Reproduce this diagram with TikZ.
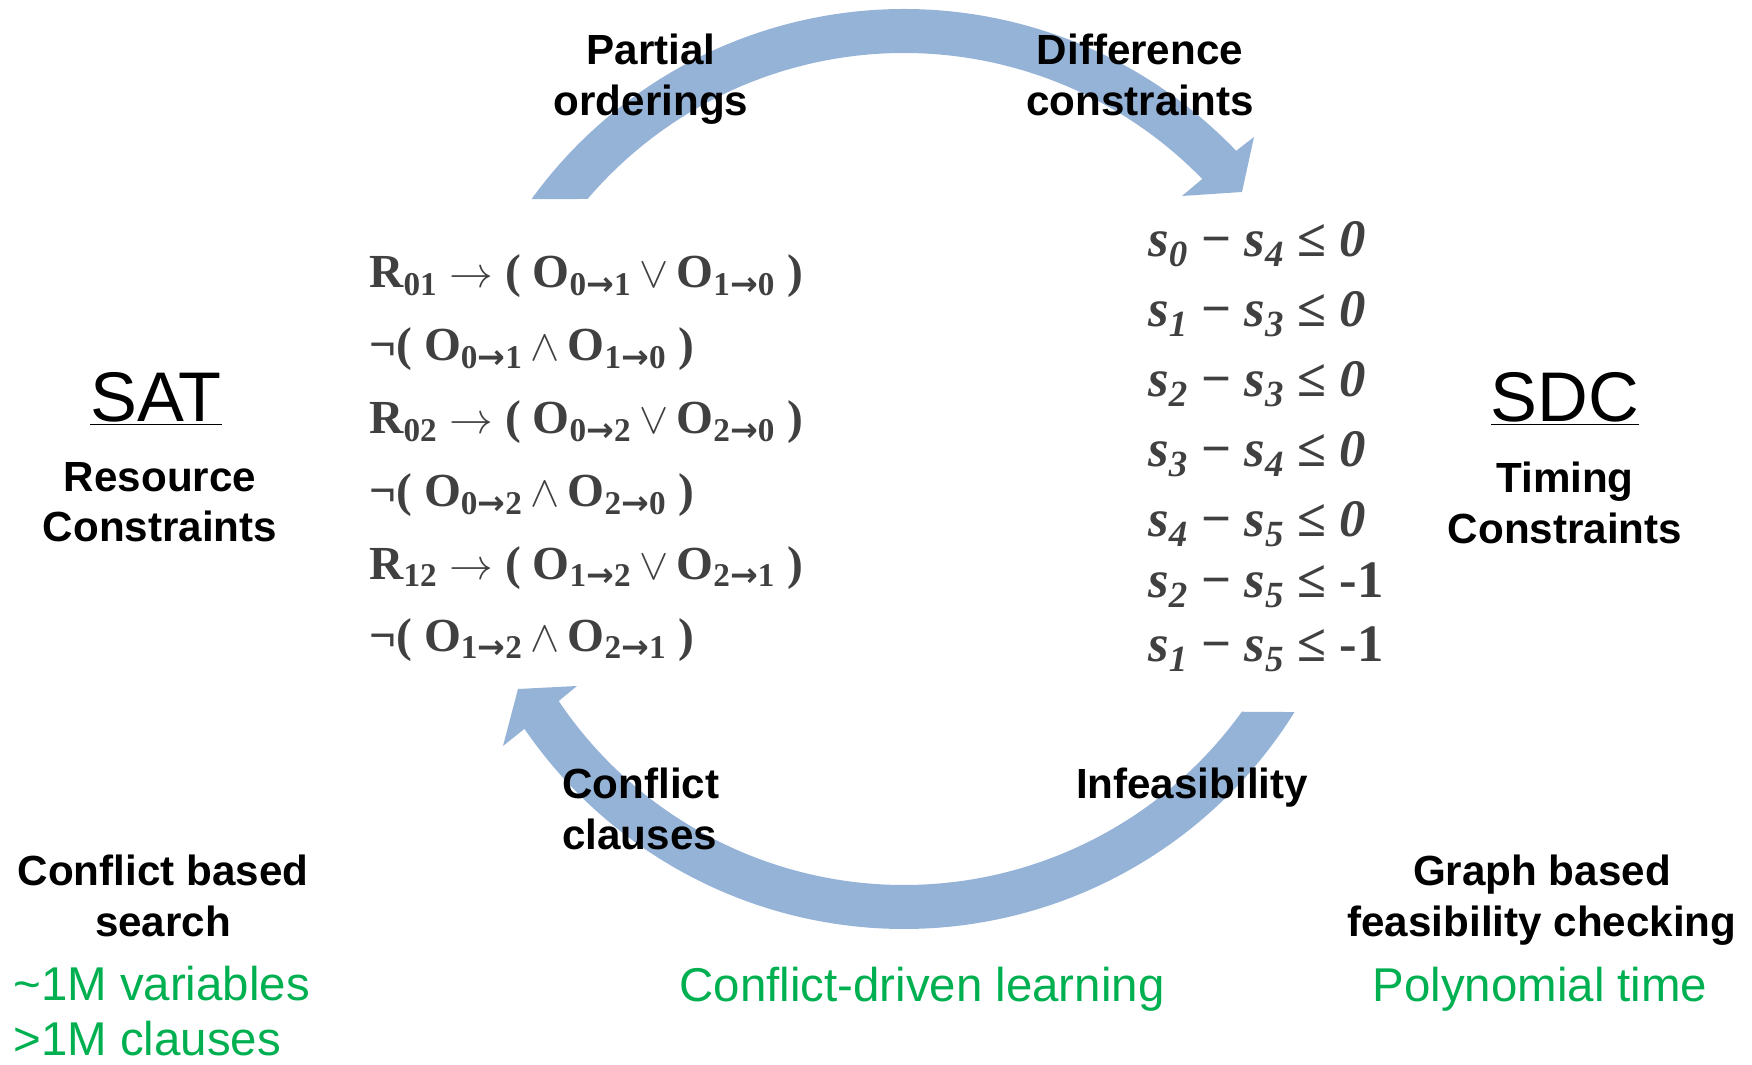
\documentclass[tikz,border=0pt]{standalone}
\usepackage{fontspec}
\setmainfont{Liberation Sans}
\newfontfamily\formfont{Liberation Serif}
\newfontfamily\arrfont{DejaVu Sans}
\usetikzlibrary{calc}
\definecolor{cArrow}{RGB}{149,179,215}
\definecolor{cForm}{RGB}{64,64,64}
\definecolor{cGreen}{RGB}{0,176,80}
\newcommand{\Rv}[1]{R\textsubscript{#1}}
\newcommand{\Ov}[2]{O\textsubscript{#1{\arrfont\bfseries →}#2}}
\newcommand{\Sv}[1]{\textit{s}\textsubscript{\textit{#1}}}
\tikzset{
  lbl/.style={font=\fontsize{24}{28.6}\selectfont\bfseries,align=center,inner sep=0pt},
  big/.style={font=\fontsize{40}{48}\selectfont,inner sep=0pt},
  note/.style={font=\fontsize{27}{32.4}\selectfont,text=cGreen,inner sep=0pt},
  clause/.style={font=\formfont\fontsize{27}{32}\selectfont\bfseries,text=cForm,anchor=base west,inner sep=0pt},
  diffc/.style={font=\formfont\fontsize{30}{36}\selectfont\bfseries,text=cForm,anchor=base west,inner sep=0pt}
}
\begin{document}
\begin{tikzpicture}[x=0.02cm,y=0.02cm]
\useasboundingbox (0,0) rectangle (1752,1065);
\coordinate (ctr) at (904,596);
\fill[cArrow] ($(ctr)+(144.06:460)$) arc[start angle=144.06,end angle=43.77,radius=460]
  -- (1254,928) -- (1242,873) -- (1182,869)
  -- ($(ctr)+(44.2:416)$) arc[start angle=44.2,end angle=139.53,radius=416] -- cycle;
\fill[cArrow] ($(ctr)+(-31.9:460)$) arc[start angle=-31.9,end angle=-145.6,radius=460]
  -- (503,319) -- (518,376) -- (577,379)
  -- ($(ctr)+(-146.1:416)$) arc[start angle=-146.1,end angle=-35.7,radius=416] -- cycle;

\node[lbl,anchor=north] (partial) at (651,1031) {Partial\\orderings};
\node[lbl,anchor=north] (diff) at (1140,1031) {Difference\\constraints};
\node[lbl,anchor=north west,align=left] (confl) at (562,297) {Conflict\\clauses};
\node[lbl,anchor=north] (infeas) at (1192,297) {Infeasibility};

\node[big,anchor=north] (sat) at (156,693) {\underline{SAT}};
\node[lbl,anchor=north] (satsub) at (160,603) {Resource\\Constraints};
\node[big,anchor=north] (sdc) at (1565,693) {\underline{SDC}};
\node[lbl,anchor=north] (sdcsub) at (1565,603) {Timing\\Constraints};

\node[clause] (f1) at (369,777) {\Rv{01} $\rightarrow$ ( \Ov{0}{1}\,$\vee$\,\Ov{1}{0} )};
\node[clause] (f2) at (369,704) {¬( \Ov{0}{1}\,$\wedge$\,\Ov{1}{0} )};
\node[clause] (f3) at (369,631) {\Rv{02} $\rightarrow$ ( \Ov{0}{2}\,$\vee$\,\Ov{2}{0} )};
\node[clause] (f4) at (369,558) {¬( \Ov{0}{2}\,$\wedge$\,\Ov{2}{0} )};
\node[clause] (f5) at (369,485) {\Rv{12} $\rightarrow$ ( \Ov{1}{2}\,$\vee$\,\Ov{2}{1} )};
\node[clause] (f6) at (369,413) {¬( \Ov{1}{2}\,$\wedge$\,\Ov{2}{1} )};

\node[diffc] (d1) at (1148,808) {\Sv{0} − \Sv{4} ≤ \textit{0}};
\node[diffc] (d2) at (1148,738) {\Sv{1} − \Sv{3} ≤ \textit{0}};
\node[diffc] (d3) at (1148,668) {\Sv{2} − \Sv{3} ≤ \textit{0}};
\node[diffc] (d4) at (1148,598) {\Sv{3} − \Sv{4} ≤ \textit{0}};
\node[diffc] (d5) at (1148,528) {\Sv{4} − \Sv{5} ≤ \textit{0}};
\node[diffc] (d6) at (1148,467) {\Sv{2} − \Sv{5} ≤ -1};
\node[diffc] (d7) at (1148,403) {\Sv{1} − \Sv{5} ≤ -1};

\node[lbl,anchor=north] (satsearch) at (163,210) {Conflict based\\search};
\node[lbl,anchor=north] (sdccheck) at (1542,210) {Graph based\\feasibility checking};
\node[note,anchor=base west] (satvars) at (13,64) {\textasciitilde1M variables};
\node[note,anchor=base west] (satclauses) at (13,9) {>1M clauses};
\node[note,anchor=base] (learn) at (922,63) {Conflict-driven learning};
\node[note,anchor=base] (polytime) at (1540,63) {Polynomial time};
\end{tikzpicture}
\end{document}
